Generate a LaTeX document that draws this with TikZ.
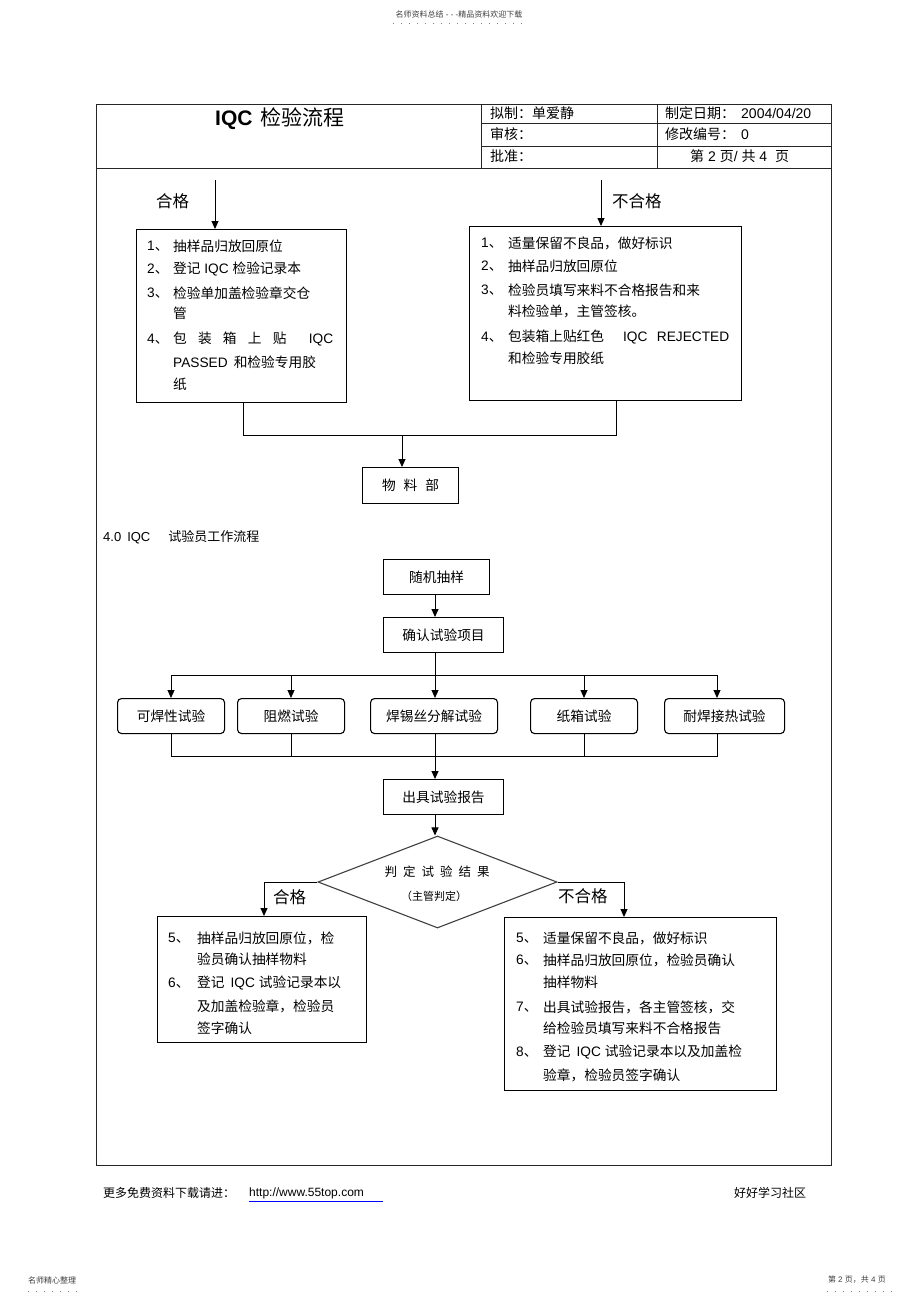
\documentclass[tikz,border=0pt]{standalone}
\usepackage{fontspec}
\setmainfont{Liberation Sans}
\newfontfamily\cjkf{Noto Sans CJK SC}
\newfontfamily\latf{Liberation Sans}
\usetikzlibrary{arrows.meta,shapes.geometric}
\XeTeXinterchartokenstate=1
\newXeTeXintercharclass\CJKc
\newcount\cjkn
\def\setcjkrange#1#2{\cjkn=#1\relax\loop\XeTeXcharclass\cjkn=\CJKc\relax\ifnum\cjkn<#2\advance\cjkn by 1\repeat}
\setcjkrange{"3000}{"303F}
\setcjkrange{"4E00}{"9FFF}
\setcjkrange{"FF00}{"FFEF}
\XeTeXinterchartoks 0 \CJKc = {\cjkf}
\XeTeXinterchartoks 4095 \CJKc = {\cjkf}
\XeTeXinterchartoks \CJKc 0 = {\latf}
\XeTeXinterchartoks \CJKc 4095 = {\latf}
\newcommand\fA{\fontsize{13.7}{16}\selectfont}
\newcommand\fH{\fontsize{14}{16}\selectfont}
\newcommand\fL{\fontsize{16.5}{18}\selectfont}
\newcommand\fT{\fontsize{21}{24}\selectfont}
\newcommand\fS{\fontsize{12}{14}\selectfont}
\newcommand\fX{\fontsize{8}{9}\selectfont}
\newcommand\tl[4]{\node[txt] (#1) at (#2,#3) {#4};}
\begin{document}
\begin{tikzpicture}[x=1pt,y=-1pt,
  txt/.style={anchor=west,inner sep=0,font=\fA},
  box/.style={draw,line width=1.2pt,inner sep=0,anchor=north west},
  rbox/.style={draw,rounded corners=4pt,line width=1.1pt,inner sep=0,anchor=north west,minimum height=35pt,font=\fA},
  sbox/.style={draw,line width=1.1pt,inner sep=0,anchor=north west,minimum height=35pt,font=\fA},
  arr/.style={-{Triangle[length=8pt,width=7pt]},line width=1pt},
  ln/.style={line width=1pt},
  frame/.style={line width=1pt,black!85},
  dots/.style={gray,line width=1pt,dash pattern=on 1pt off 7pt}]
\useasboundingbox[fill=white] (0,0) rectangle (920,1303);
% page header / footer
\node[font=\fX,text=black!75,inner sep=0] (ph) at (459,14) {名师资料总结 - - -精品资料欢迎下载};
\coordinate (phA) at (393,24); \coordinate (phB) at (527,24);
\draw[dots] (phA) -- (phB);
\node[font=\fX,text=black!75,inner sep=0,anchor=west] (pf1) at (28,1280) {名师精心整理};
\coordinate (pfA) at (28,1291); \coordinate (pfB) at (78,1291);
\draw[dots] (pfA) -- (pfB);
\node[font=\fX,text=black!75,inner sep=0,anchor=east] (pf2) at (886,1280) {第 2 页，共 4 页};
\coordinate (pfC) at (827,1291); \coordinate (pfD) at (892,1291);
\draw[dots] (pfC) -- (pfD);
% frame and header table
\draw[frame] (96,105) rectangle (831,1165);
\draw[frame] (96,168) -- (831,168);
\draw[frame] (481,105) -- (481,168);
\draw[frame] (657,105) -- (657,168);
\draw[frame] (481,124) -- (831,124);
\draw[frame] (481,146) -- (831,146);
\node[anchor=west,inner sep=0,font=\fT] (title) at (215,119) {\textbf{IQC}\hspace{8pt}检验流程};
\node[anchor=west,inner sep=0,font=\fH] (h1) at (490,113) {拟制：单爱静};
\node[anchor=west,inner sep=0,font=\fH] (h2) at (665,113) {制定日期：\hspace{6pt}2004/04/20};
\node[anchor=west,inner sep=0,font=\fH] (h3) at (490,134) {审核：};
\node[anchor=west,inner sep=0,font=\fH] (h4) at (665,134) {修改编号：\hspace{6pt}0};
\node[anchor=west,inner sep=0,font=\fH] (h5) at (490,156) {批准：};
\node[anchor=west,inner sep=0,font=\fH] (h6) at (690,156) {第 2 页/ 共 4\hspace{8pt}页};
% top section
\node[anchor=west,inner sep=0,font=\fL] (okT) at (156,201) {合格};
\node[anchor=west,inner sep=0,font=\fL] (ngT) at (612,201) {不合格};
\node[box,minimum width=210pt,minimum height=173pt] (LA) at (136,229) {};
\node[box,minimum width=272pt,minimum height=174pt] (RA) at (469,226) {};
\coordinate (inL) at (215,180); \coordinate (inR) at (601,180);
\draw[arr] (inL) -- (inL |- LA.north);
\draw[arr] (inR) -- (inR |- RA.north);
\tl{a1}{147}{246}{1、} \tl{a1t}{173}{246}{抽样品归放回原位}
\tl{a2}{147}{269}{2、} \tl{a2t}{173}{269}{登记 IQC 检验记录本}
\tl{a3}{147}{293}{3、} \tl{a3t}{173}{293}{检验单加盖检验章交仓}
\tl{a3u}{173}{313}{管}
\tl{a4}{147}{339}{4、} \tl{a4t}{173}{339}{\makebox[160pt][s]{包\hfill 装\hfill 箱\hfill 上\hfill 贴\hfill\hfill IQC}}
\tl{a4u}{173}{362}{PASSED\hspace{6pt}和检验专用胶}
\tl{a4v}{173}{384}{纸}
\tl{b1}{481}{243}{1、} \tl{b1t}{508}{243}{适量保留不良品，做好标识}
\tl{b2}{481}{266}{2、} \tl{b2t}{508}{266}{抽样品归放回原位}
\tl{b3}{481}{290}{3、} \tl{b3t}{508}{290}{检验员填写来料不合格报告和来}
\tl{b3u}{508}{311}{料检验单，主管签核。}
\tl{b4}{481}{337}{4、} \tl{b4t}{508}{337}{\makebox[221pt][s]{包装箱上贴红色\hfill\hfill IQC\hfill REJECTED}}
\tl{b4u}{508}{358}{和检验专用胶纸}
\node[box,minimum width=96pt,minimum height=36pt,font=\fA] (Mat) at (362,467) {物\hspace{8pt}料\hspace{8pt}部};
\coordinate (jL) at (243,435); \coordinate (jR) at (616,435); \coordinate (jM) at (402,435);
\draw[ln] (jL |- LA.south) -- (jL) -- (jR) -- (jR |- RA.south);
\draw[arr] (jM) -- (jM |- Mat.north);
% section 4.0
\node[anchor=west,inner sep=0,font=\fontsize{13}{15}\selectfont] (sec) at (103,537) {4.0\hspace{6pt}IQC\hspace{18pt}试验员工作流程};
\node[sbox,minimum width=106pt] (Rand) at (383,559) {随机抽样};
\node[sbox,minimum width=120pt] (Conf) at (383,617) {确认试验项目};
\node[rbox,minimum width=107pt] (T1) at (117,698) {可焊性试验};
\node[rbox,minimum width=107pt] (T2) at (237,698) {阻燃试验};
\node[rbox,minimum width=127pt] (T3) at (370,698) {焊锡丝分解试验};
\node[rbox,minimum width=107pt] (T4) at (530,698) {纸箱试验};
\node[rbox,minimum width=120pt] (T5) at (664,698) {耐焊接热试验};
\node[sbox,minimum width=120pt] (Rep) at (383,779) {出具试验报告};
\coordinate (sp) at (435,0);
\coordinate (x1) at (171,0); \coordinate (x2) at (291,0); \coordinate (x4) at (584,0); \coordinate (x5) at (717,0);
\coordinate (busT) at (0,675); \coordinate (busB) at (0,756);
\draw[arr] (sp |- Rand.south) -- (sp |- Conf.north);
\draw[ln] (x1 |- busT) -- (x5 |- busT);
\draw[arr] (sp |- Conf.south) -- (sp |- T3.north);
\draw[arr] (x1 |- busT) -- (x1 |- T1.north);
\draw[arr] (x2 |- busT) -- (x2 |- T2.north);
\draw[arr] (x4 |- busT) -- (x4 |- T4.north);
\draw[arr] (x5 |- busT) -- (x5 |- T5.north);
\draw[ln] (x1 |- T1.south) -- (x1 |- busB) -- (x5 |- busB) -- (x5 |- T5.south);
\draw[ln] (x2 |- T2.south) -- (x2 |- busB);
\draw[ln] (x4 |- T4.south) -- (x4 |- busB);
\draw[arr] (sp |- T3.south) -- (sp |- Rep.north);
% decision
\node[diamond,draw=black!75,line width=1.1pt,minimum width=239pt,minimum height=92pt,inner sep=0] (D) at (437.5,882) {};
\node[inner sep=0,font=\fontsize{12.5}{14}\selectfont] (Dt1) at (437,872) {判\hspace{6pt}定\hspace{6pt}试\hspace{6pt}验\hspace{6pt}结\hspace{6pt}果};
\node[inner sep=0,font=\fontsize{11}{13}\selectfont] (Dt2) at (434,896) {（主管判定）};
\draw[arr] (sp |- Rep.south) -- (sp |- D.north);
\node[box,minimum width=209pt,minimum height=126pt] (BL) at (157,916) {};
\node[box,minimum width=272pt,minimum height=173pt] (BR) at (504,917) {};
\coordinate (xL) at (264,0); \coordinate (xR) at (624,0);
\draw[arr] (D.west) -| (xL |- BL.north);
\draw[arr] (D.east) -| (xR |- BR.north);
\node[anchor=west,inner sep=0,font=\fL] (okB) at (273,897) {合格};
\node[anchor=west,inner sep=0,font=\fL] (ngB) at (558,896) {不合格};
\tl{c5}{168}{938}{5、} \tl{c5t}{197}{938}{抽样品归放回原位，检}
\tl{c5u}{197}{959}{验员确认抽样物料}
\tl{c6}{168}{983}{6、} \tl{c6t}{197}{983}{登记\hspace{6pt}IQC\hspace{4pt}试验记录本以}
\tl{c6u}{197}{1006}{及加盖检验章，检验员}
\tl{c6v}{197}{1028}{签字确认}
\tl{d5}{516}{938}{5、} \tl{d5t}{543}{938}{适量保留不良品，做好标识}
\tl{d6}{516}{960}{6、} \tl{d6t}{543}{960}{抽样品归放回原位，检验员确认}
\tl{d6u}{543}{982}{抽样物料}
\tl{d7}{516}{1007}{7、} \tl{d7t}{543}{1007}{出具试验报告，各主管签核，交}
\tl{d7u}{543}{1028}{给检验员填写来料不合格报告}
\tl{d8}{516}{1052}{8、} \tl{d8t}{543}{1052}{登记\hspace{6pt}IQC\hspace{4pt}试验记录本以及加盖检}
\tl{d8u}{543}{1075}{验章，检验员签字确认}
% footer
\node[anchor=west,inner sep=0,font=\fS] (f1) at (103,1193) {更多免费资料下载请进：};
\node[anchor=west,inner sep=0,font=\fS] (url) at (249,1193) {http://www.55top.com};
\coordinate (ulE) at (383,1201);
\draw[blue,line width=0.9pt] (url.west |- ulE) -- (ulE);
\node[anchor=west,inner sep=0,font=\fS] (f2) at (734,1193) {好好学习社区};
\end{tikzpicture}
\end{document}
